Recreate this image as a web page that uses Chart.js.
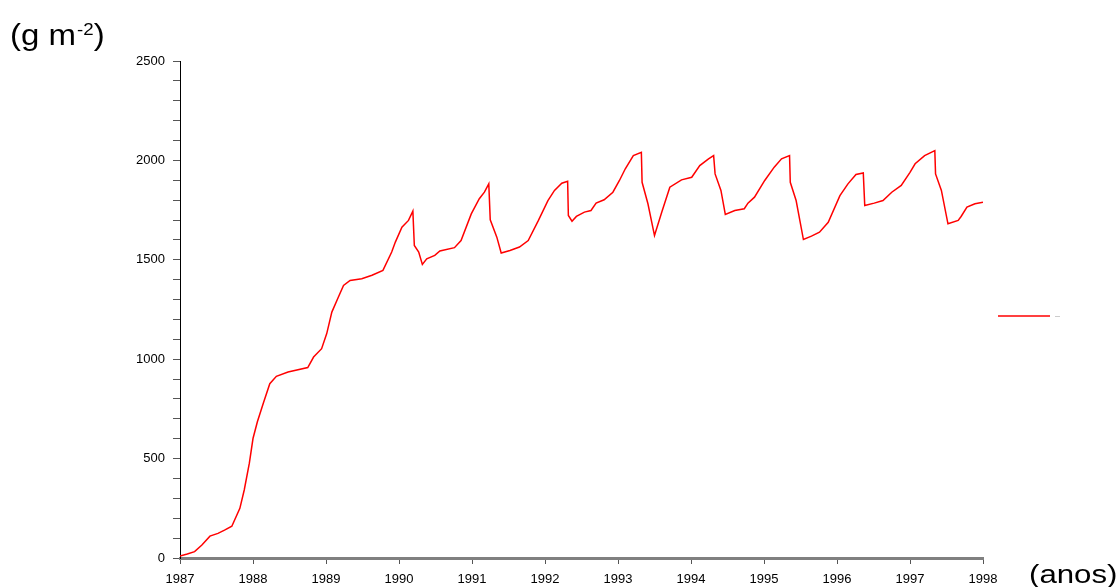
<!DOCTYPE html>
<html>
<head>
<meta charset="utf-8">
<script src="https://cdn.jsdelivr.net/npm/chart.js@4/dist/chart.umd.min.js"></script>
<style>
html,body{margin:0;padding:0;background:#fff;}
#c{display:block;}
</style>
</head>
<body>
<canvas id="c" width="1120" height="587"></canvas>
<script>
// Data (time in decimal years, biomass in g m-2)
const years = [
 1987.00,1987.10,1987.20,1987.30,1987.41,1987.52,1987.61,1987.71,1987.82,1987.88,1987.95,1988.00,1988.06,1988.14,1988.23,1988.32,1988.48,1988.75,1988.83,1988.94,
 1989.01,1989.08,1989.17,1989.24,1989.33,1989.49,1989.63,1989.78,1989.90,1989.95,1990.04,1990.13,1990.19,1990.21,1990.27,1990.32,1990.38,1990.49,1990.56,1990.76,
 1990.85,1990.99,1991.10,1991.17,1991.23,1991.25,1991.34,1991.40,1991.52,1991.65,1991.77,1991.91,1992.04,1992.13,1992.23,1992.31,1992.32,1992.37,1992.43,1992.54,
 1992.63,1992.70,1992.81,1992.93,1993.02,1993.10,1993.21,1993.32,1993.33,1993.41,1993.50,1993.60,1993.71,1993.87,1994.01,1994.12,1994.24,1994.31,1994.33,1994.41,
 1994.47,1994.60,1994.73,1994.78,1994.87,1995.01,1995.14,1995.24,1995.35,1995.36,1995.44,1995.54,1995.65,1995.76,1995.88,1996.04,1996.15,1996.26,1996.36,1996.38,
 1996.51,1996.63,1996.75,1996.88,1997.00,1997.07,1997.20,1997.34,1997.35,1997.43,1997.52,1997.66,1997.70,1997.78,1997.89,1998.00
];
const biomass = [
 10,20,32,65,110,124,140,160,250,342,477,601,685,777,877,914,936,958,1011,1053,
 1129,1237,1313,1371,1396,1405,1422,1447,1539,1589,1664,1698,1745,1572,1539,1477,1505,1522,1544,1561,
 1597,1731,1807,1840,1882,1701,1614,1534,1547,1564,1597,1698,1798,1849,1885,1895,1723,1694,1718,1740,
 1748,1785,1802,1840,1899,1958,2024,2041,1890,1782,1622,1740,1865,1902,1915,1974,2008,2024,1932,1849,
 1728,1748,1757,1785,1815,1899,1966,2008,2024,1890,1798,1602,1619,1639,1689,1823,1882,1929,1937,1773,
 1785,1798,1840,1874,1940,1983,2024,2049,1932,1849,1681,1698,1718,1765,1782,1790
];
const yLabelTicks = [0,500,1000,1500,2000,2500];
const xTickLabels = ['1987','1988','1989','1990','1991','1992','1993','1994','1995','1996','1997','1998'];
const yUnit = '(g m';
const yUnitSup = '-2';
const xUnit = '(anos)';

const points = years.map((x,i)=>({x:x,y:biomass[i]}));

const FONT = '"Liberation Sans", Arial, sans-serif';
const decor = {
  id:'decor',
  afterDraw(chart){
    const ctx = chart.ctx;
    ctx.save();
    ctx.fillStyle = '#000';
    ctx.textBaseline = 'alphabetic';
    ctx.textAlign = 'left';
    // y unit
    ctx.save();
    ctx.translate(10, 45);
    ctx.scale(1.1, 1);
    ctx.font = '30px ' + FONT;
    let x = 0;
    ctx.fillText(yUnit, x, 0);
    x += ctx.measureText(yUnit).width + 1;
    ctx.font = '17px ' + FONT;
    ctx.fillText(yUnitSup, x, -10);
    x += ctx.measureText(yUnitSup).width;
    ctx.font = '30px ' + FONT;
    ctx.fillText(')', x, 0);
    ctx.restore();
    // x unit
    ctx.save();
    ctx.translate(1029, 583);
    ctx.scale(1.2, 1);
    ctx.font = '26px ' + FONT;
    ctx.fillText(xUnit, 0, 0);
    ctx.restore();
    // legend sample
    ctx.strokeStyle = '#ff0000';
    ctx.lineWidth = 1.5;
    ctx.beginPath(); ctx.moveTo(998,316); ctx.lineTo(1050,316); ctx.stroke();
    ctx.strokeStyle = '#cccccc';
    ctx.lineWidth = 1;
    ctx.beginPath(); ctx.moveTo(1055,316.5); ctx.lineTo(1060,316.5); ctx.stroke();
    ctx.restore();
  }
};

new Chart(document.getElementById('c'), {
  type:'line',
  data:{datasets:[{
    label:'biomassa',
    data:points,
    borderColor:'#ff0000',
    borderWidth:1.5,
    pointRadius:0,
    tension:0,
    fill:false
  }]},
  options:{
    responsive:false,
    animation:false,
    layout:{padding:{left:0,right:137,top:61,bottom:0}},
    plugins:{legend:{display:false},tooltip:{enabled:false}},
    scales:{
      x:{
        type:'linear', min:1987, max:1998,
        afterFit(s){ s.height = 29; },
        afterBuildTicks(s){ s.ticks = xTickLabels.map(v=>({value:+v})); },
        border:{display:true,color:'#808080',width:3},
        grid:{drawOnChartArea:false,drawTicks:true,tickLength:6,color:'#555',lineWidth:1},
        ticks:{color:'#000',padding:8,maxRotation:0,autoSkip:false,
          font:{family:FONT,size:13},
          callback:(v)=>String(v)}
      },
      y:{
        type:'linear', min:0, max:2500,
        afterFit(s){ s.width = 180; },
        afterBuildTicks(s){ const t=[]; for(let v=0; v<=2500; v+=100) t.push({value:v}); s.ticks=t; },
        border:{display:true,color:'#000',width:1},
        grid:{drawOnChartArea:false,drawTicks:true,tickLength:7,color:'#555',lineWidth:1},
        ticks:{color:'#000',padding:8,autoSkip:false,
          font:{family:FONT,size:13},
          callback:(v)=> yLabelTicks.includes(v) ? String(v) : ''}
      }
    }
  },
  plugins:[decor]
});
</script>
</body>
</html>
